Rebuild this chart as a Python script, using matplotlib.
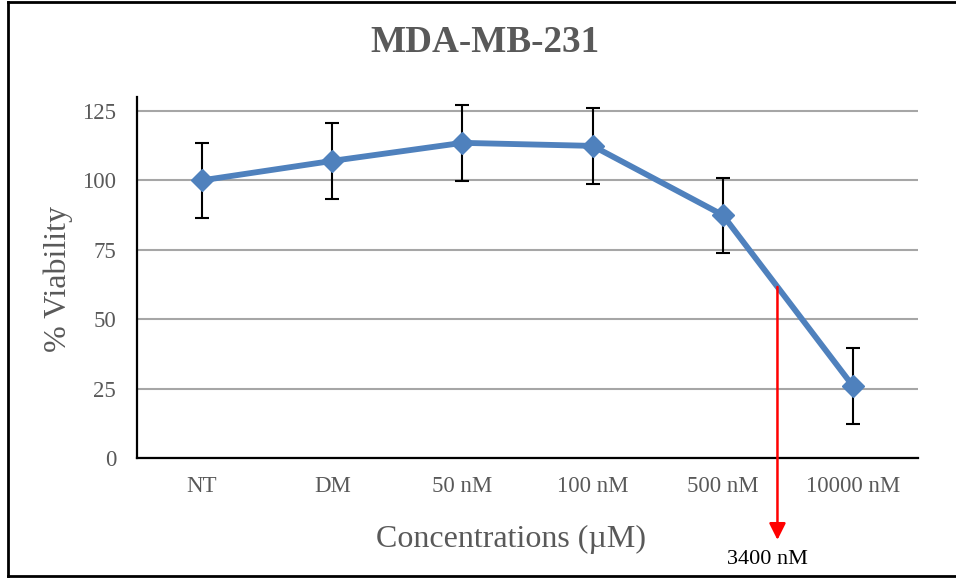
import matplotlib.pyplot as plt
from matplotlib.lines import Line2D

categories = ['NT', 'DM', '50 nM', '100 nM', '500 nM', '10000 nM']
viability = [100.0, 107.0, 113.5, 112.4, 87.5, 25.9]
errors = [13.6, 13.7, 13.6, 13.7, 13.5, 13.7]
ic50_pos = 4.42
ic50_value = 61.6
ic50_label = '3400 nM'

plt.rcParams['font.family'] = ['Liberation Serif', 'DejaVu Serif']
gray = '#595959'

fig = plt.figure(figsize=(9.56, 5.81), dpi=100)
ax = fig.add_axes([0.1433, 0.2117, 0.817, 0.6213])

x = list(range(len(categories)))
ax.errorbar(x, viability, yerr=errors, fmt='none', ecolor='black',
            elinewidth=1.5, capsize=5, capthick=1.5, zorder=3)
ax.plot(x, viability, color='#4F81BD', lw=4.2, marker='D', markersize=11,
        zorder=4)

ax.set_xlim(-0.5, len(categories) - 0.5)
ax.set_ylim(0, 130)
ax.set_yticks([0, 25, 50, 75, 100, 125])
ax.set_xticks(x)
ax.set_xticklabels(categories)
ax.yaxis.grid(True, color='#A6A6A6', lw=1.5)
ax.set_axisbelow(True)
for s in ['top', 'right']:
    ax.spines[s].set_visible(False)
for s in ['left', 'bottom']:
    ax.spines[s].set_linewidth(1.6)
ax.tick_params(axis='both', length=0, labelsize=16.5, colors=gray)
ax.tick_params(axis='y', pad=15)
ax.tick_params(axis='x', pad=13)

# IC50 arrow
ax.annotate('', xy=(ic50_pos, -29.5), xytext=(ic50_pos, ic50_value),
            arrowprops=dict(arrowstyle='-|>', color='red', lw=1.8,
                            mutation_scale=25, shrinkA=0, shrinkB=0),
            annotation_clip=False, zorder=5)
ax.text(ic50_pos - 0.08, -36.5, ic50_label, ha='center', va='center',
        fontsize=16, color='black', clip_on=False)

fig.text(0.507, 0.926, 'MDA-MB-231', ha='center', va='center',
         fontsize=26.7, fontweight='bold', color=gray)
fig.text(0.534, 0.071, 'Concentrations (\u00b5M)', ha='center', va='center',
         fontsize=23, color=gray)
fig.text(0.061, 0.52, '% Viability', ha='center', va='center',
         fontsize=23, color=gray, rotation=90)

# chart-area border
fig.add_artist(Line2D([0.0084, 0.0084], [0.009, 0.9966], color='black', lw=2))
fig.add_artist(Line2D([0.0084, 1.0], [0.9966, 0.9966], color='black', lw=2))
fig.add_artist(Line2D([0.0084, 1.0], [0.009, 0.009], color='black', lw=2))

fig.savefig('out.png', dpi=100)
